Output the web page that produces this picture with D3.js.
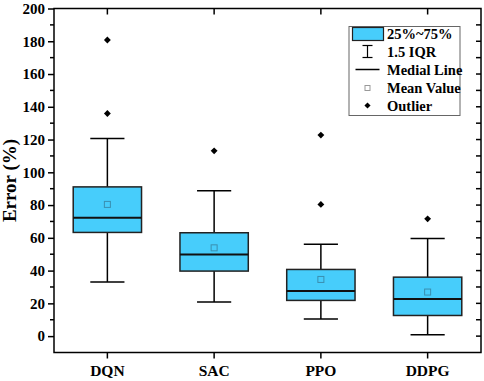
<!DOCTYPE html>
<html><head><meta charset="utf-8">
<script src="https://cdn.jsdelivr.net/npm/d3@7"></script>
<style>body{margin:0;background:#fff}svg{display:block}text{font-family:"Liberation Serif","Times New Roman",serif;font-weight:bold}</style>
</head><body>
<svg id="c" width="484" height="381"></svg>
<script>
const categories = ["DQN", "SAC", "PPO", "DDPG"];
const whiskerLow = [33.1, 20.9, 10.4, 0.8];
const q1 = [63.3, 39.7, 21.8, 12.6];
const median = [72.2, 49.9, 27.6, 22.6];
const q3 = [91.1, 63.1, 40.7, 36.0];
const whiskerHigh = [120.7, 88.7, 56.1, 59.6];
const mean = [80.4, 53.9, 34.6, 26.9];
const outliers = [[180.8, 135.9], [113.1], [122.7, 80.4], [71.6]];
const yTicks = [0, 20, 40, 60, 80, 100, 120, 140, 160, 180, 200];
const legendLabels = ["25%~75%", "1.5 IQR", "Medial Line", "Mean Value", "Outlier"];

const fill = "#47CDFB";
const svg = d3.select("#c");
const L = 54, R = 481, T = 8.5, B = 352.5;
const x = d3.scaleBand().domain(categories).range([L, R]);
const y = d3.scaleLinear().domain([-10, 200]).range([B, T]);
const bw = x.bandwidth() * 0.64;
const cx = c => x(c) + x.bandwidth() / 2;

// left axis
const yAxis = d3.axisLeft(y).tickValues(yTicks).tickSize(6).tickPadding(3);
const gy = svg.append("g").attr("transform", `translate(${L},0)`).call(yAxis);
gy.selectAll("text").style("font-size", "15px").attr("fill", "#000");
gy.selectAll("line").attr("stroke-width", 1.5);
gy.select(".domain").remove();
// left minor ticks
svg.append("g").selectAll("line").data(d3.range(10, 200, 20)).join("line")
  .attr("x1", L - 4).attr("x2", L).attr("y1", v => y(v)).attr("y2", v => y(v)).attr("stroke", "#000").attr("stroke-width", 1.5);
// right ticks inward
svg.append("g").selectAll("line").data(d3.range(0, 200, 10)).join("line")
  .attr("x1", R - 5).attr("x2", R).attr("y1", v => y(v)).attr("y2", v => y(v)).attr("stroke", "#000").attr("stroke-width", 1.5);
// bottom axis
const xAxis = d3.axisBottom(x).tickSize(6).tickPadding(6);
const gx = svg.append("g").attr("transform", `translate(0,${B})`).call(xAxis);
gx.selectAll("text").style("font-size", "15.5px").attr("fill", "#000");
gx.selectAll("line").attr("stroke-width", 1.5);
gx.select(".domain").remove();
// top ticks inward
svg.append("g").selectAll("line").data(categories).join("line")
  .attr("x1", cx).attr("x2", cx).attr("y1", T).attr("y2", T + 6).attr("stroke", "#000").attr("stroke-width", 1.5);
// frame
svg.append("rect").attr("x", L).attr("y", T).attr("width", R - L).attr("height", B - T)
  .attr("fill", "none").attr("stroke", "#000").attr("stroke-width", 1.5);

// y label
svg.append("text").attr("transform", `translate(16,${(T + B) / 2}) rotate(-90)`)
  .attr("text-anchor", "middle").style("font-size", "19px").text("Error (%)");

// boxes
const g = svg.append("g");
categories.forEach((c, i) => {
  const xc = cx(c);
  g.append("line").attr("x1", xc).attr("x2", xc).attr("y1", y(whiskerHigh[i])).attr("y2", y(q3[i])).attr("stroke", "#000").attr("stroke-width", 1.5);
  g.append("line").attr("x1", xc).attr("x2", xc).attr("y1", y(q1[i])).attr("y2", y(whiskerLow[i])).attr("stroke", "#000").attr("stroke-width", 1.5);
  [whiskerHigh[i], whiskerLow[i]].forEach(v => g.append("line").attr("x1", xc - bw / 4).attr("x2", xc + bw / 4).attr("y1", y(v)).attr("y2", y(v)).attr("stroke", "#000").attr("stroke-width", 1.5));
  g.append("rect").attr("x", xc - bw / 2).attr("y", y(q3[i])).attr("width", bw).attr("height", y(q1[i]) - y(q3[i]))
    .attr("fill", fill).attr("stroke", "#222").attr("stroke-width", 1.5);
  g.append("line").attr("x1", xc - bw / 2).attr("x2", xc + bw / 2).attr("y1", y(median[i])).attr("y2", y(median[i])).attr("stroke", "#111").attr("stroke-width", 2);
  g.append("rect").attr("x", xc - 3).attr("y", y(mean[i]) - 3).attr("width", 6).attr("height", 6)
    .attr("fill", "none").attr("stroke", "#3a8fb0").attr("stroke-width", 1);
  outliers[i].forEach(v => g.append("path").attr("d", d3.symbol(d3.symbolDiamond2, 30)()).attr("transform", `translate(${xc},${y(v)})`).attr("fill", "#000"));
});

// legend
const lg = svg.append("g");
lg.append("rect").attr("x", 349).attr("y", 26.5).attr("width", 111).attr("height", 89).attr("fill", "#fff").attr("stroke", "#666").attr("stroke-width", 1);
const rowY = [34, 51.5, 69.5, 88, 105.5];
const sx = 367.5;
legendLabels.forEach((t, i) => {
  lg.append("text").attr("x", 387).attr("y", rowY[i]).attr("dy", "0.35em").style("font-size", "14.5px").text(t);
});
lg.append("rect").attr("x", 352.5).attr("y", 27.5).attr("width", 31).attr("height", 13).attr("fill", fill).attr("stroke", "#222").attr("stroke-width", 1.2);
lg.append("line").attr("x1", sx).attr("x2", sx).attr("y1", rowY[1] - 6).attr("y2", rowY[1] + 6).attr("stroke", "#000").attr("stroke-width", 1.2);
[rowY[1] - 6, rowY[1] + 6].forEach(v => lg.append("line").attr("x1", sx - 5).attr("x2", sx + 5).attr("y1", v).attr("y2", v).attr("stroke", "#000").attr("stroke-width", 1.2));
lg.append("line").attr("x1", sx - 12).attr("x2", sx + 12).attr("y1", rowY[2]).attr("y2", rowY[2]).attr("stroke", "#000").attr("stroke-width", 1.5);
lg.append("rect").attr("x", sx - 2.5).attr("y", rowY[3] - 2.5).attr("width", 5).attr("height", 5).attr("fill", "none").attr("stroke", "#999").attr("stroke-width", 1);
lg.append("path").attr("d", d3.symbol(d3.symbolDiamond2, 24)()).attr("transform", `translate(${sx},${rowY[4]})`).attr("fill", "#000");
</script>
</body></html>
